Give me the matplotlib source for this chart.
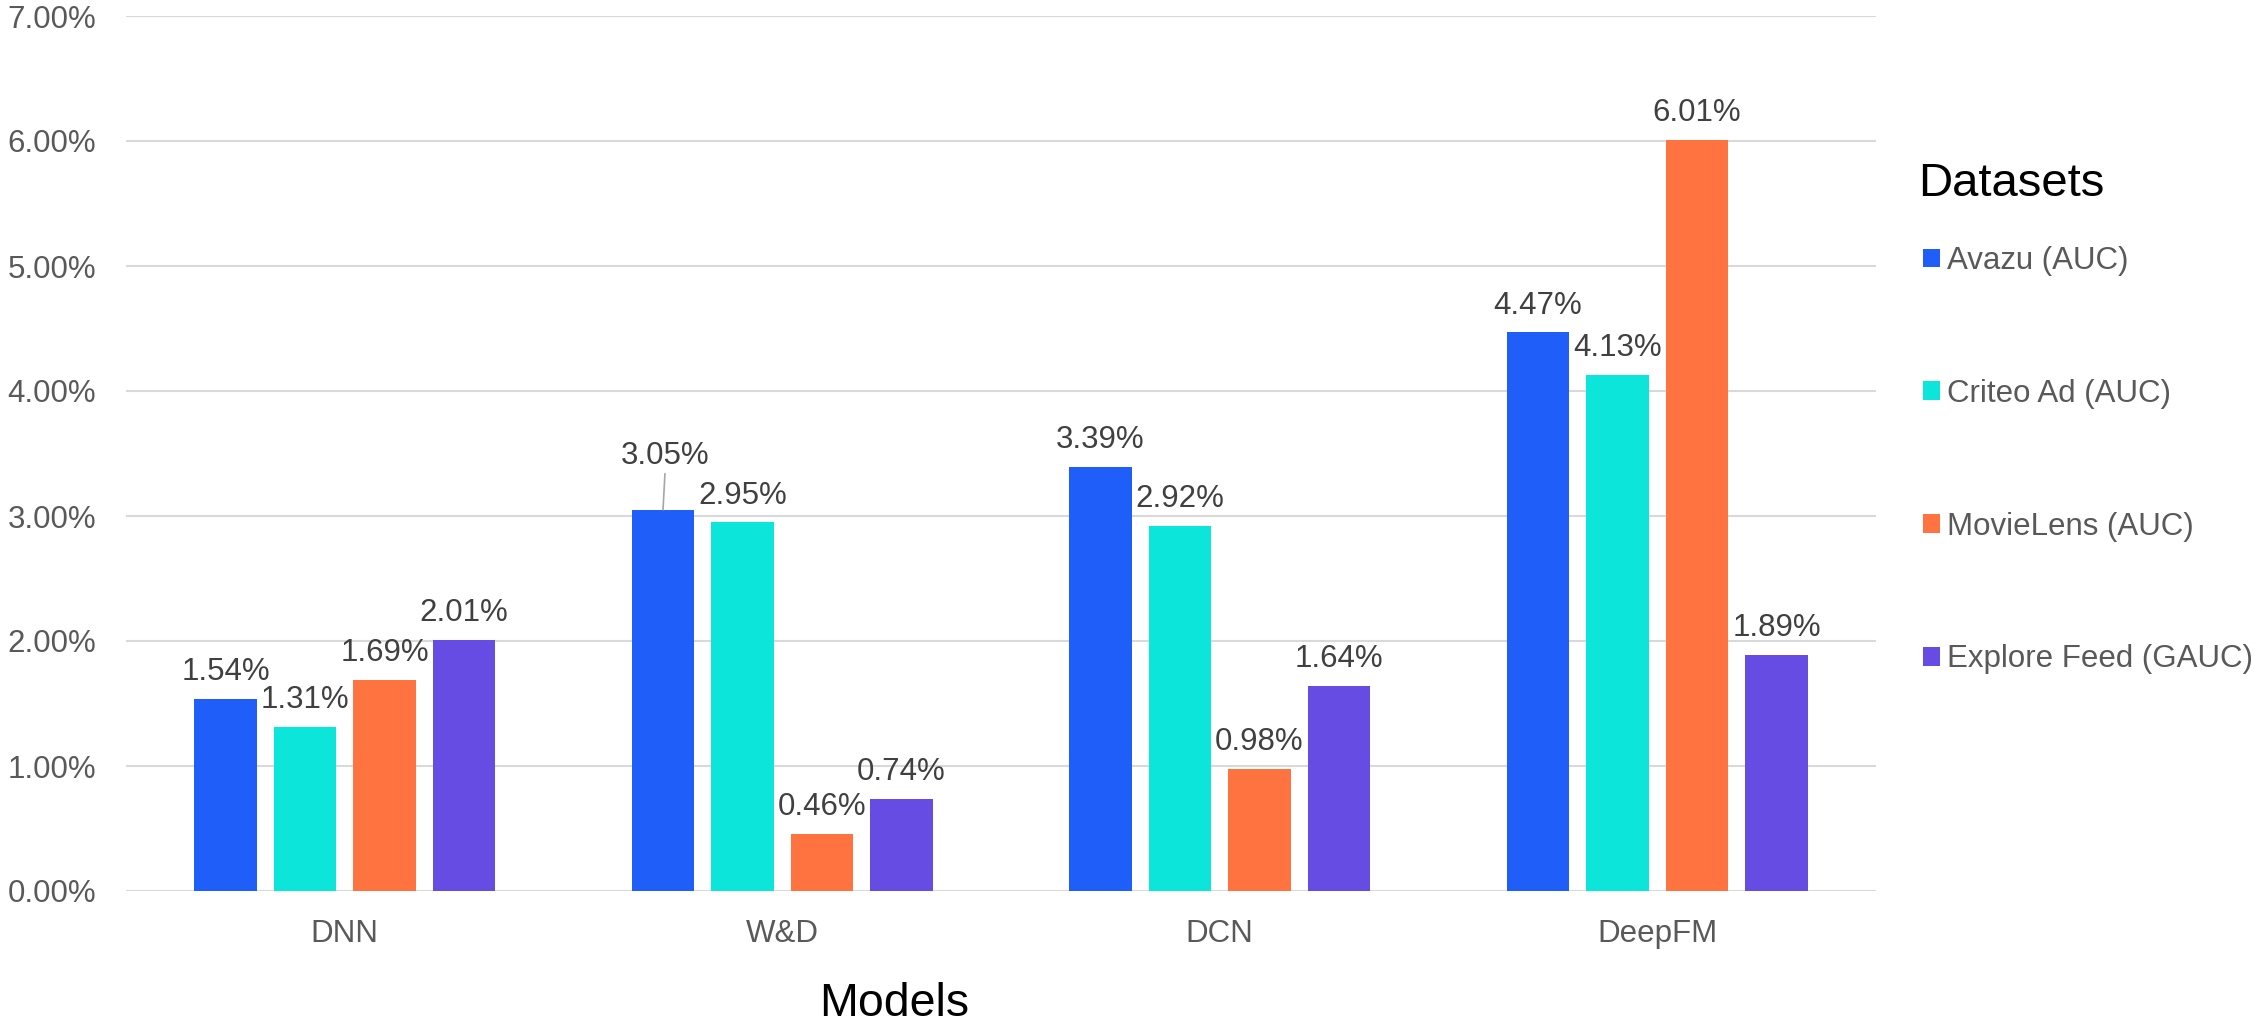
import numpy as np
import matplotlib.pyplot as plt

# Data (relative improvement, %)
models = ["DNN", "W&D", "DCN", "DeepFM"]
datasets = ["Avazu (AUC)", "Criteo Ad (AUC)", "MovieLens (AUC)", "Explore Feed (GAUC)"]
avazu = [1.54, 3.05, 3.39, 4.47]
criteo = [1.31, 2.95, 2.92, 4.13]
movielens = [1.69, 0.46, 0.98, 6.01]
explore = [2.01, 0.74, 1.64, 1.89]
y_ticks = [0, 1, 2, 3, 4, 5, 6, 7]

colors = ["#205EFA", "#0CE6DA", "#FF7340", "#664CE2"]

plt.rcParams['font.family'] = ['Liberation Sans', 'DejaVu Sans']

W, H = 2254, 1023
fig = plt.figure(figsize=(W / 100, H / 100), dpi=100)
ax = fig.add_axes([126 / W, 132 / H, 1750 / W, 875 / H])

x = np.arange(len(models))
width = 0.1433
pitch = 0.1817
series = [avazu, criteo, movielens, explore]

for i, (vals, label, color) in enumerate(zip(series, datasets, colors)):
    pos = x + (i - 1.5) * pitch
    ax.bar(pos, vals, width, color=color, label=label, zorder=3)
    for j, (bx, v) in enumerate(zip(pos, vals)):
        if i == 0 and j == 1:
            # this one is pushed up to clear its neighbour, with a leader line
            ax.annotate(f"{v:.2f}%", xy=(bx, v), xytext=(1.5, 33),
                        textcoords='offset points', ha='center', va='baseline',
                        fontsize=22.5, color='#404040',
                        arrowprops=dict(arrowstyle='-', color='#a6a6a6', lw=1.2,
                                        shrinkA=0, shrinkB=0, relpos=(0.5, 0)))
        else:
            ax.annotate(f"{v:.2f}%", xy=(bx, v), xytext=(0, 13.5),
                        textcoords='offset points', ha='center', va='baseline',
                        fontsize=22.5, color='#404040')

# Axes styling
ax.set_xlim(-0.5, len(models) - 0.5)
ax.set_ylim(0, 7)
ax.set_yticks(y_ticks)
ax.set_yticklabels([f"{t:.2f}%" for t in y_ticks])
ax.set_xticks(x)
ax.set_xticklabels(models)
ax.tick_params(axis='both', length=0, labelsize=22.5, labelcolor='#595959')
ax.tick_params(axis='y', pad=21.5)
ax.tick_params(axis='x', pad=20)
ax.yaxis.grid(True, color='#d9d9d9', lw=1.5, zorder=0)
ax.set_axisbelow(True)
for s in ax.spines.values():
    s.set_visible(False)

ax.set_xlabel("Models", fontsize=33.5, color='black', va='baseline')
ax.xaxis.set_label_coords(0.4389, -0.1429)

# Legend
fig.text(1918 / W, 1 - 196 / H, "Datasets", fontsize=34, va='baseline', ha='left')
ax.legend(loc='upper left', bbox_to_anchor=(1923 / W, 1 - 246 / H),
          bbox_transform=fig.transFigure, frameon=False, fontsize=22.5,
          handlelength=0.55, handleheight=0.55, handletextpad=0.22,
          labelspacing=3.29, borderpad=0, borderaxespad=0, labelcolor='#595959')

fig.savefig("out.png", dpi=100)
